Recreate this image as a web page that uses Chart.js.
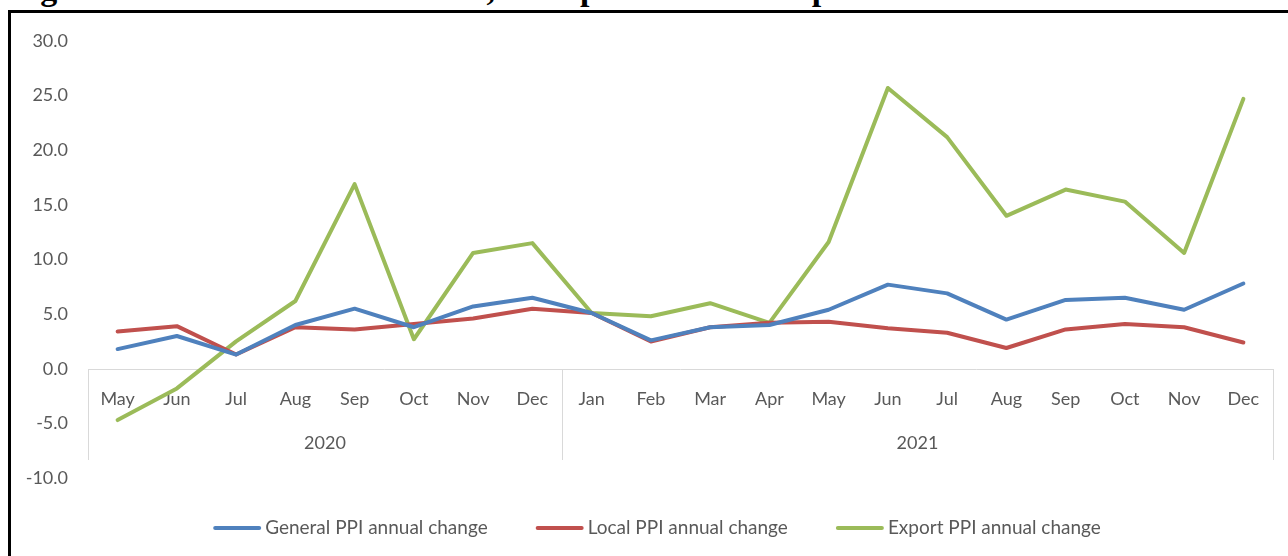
<!DOCTYPE html>
<html>
<head>
<meta charset="utf-8">
<script src="https://cdn.jsdelivr.net/npm/chart.js@4"></script>
<style>
  html,body{margin:0;padding:0;background:#fff;overflow:hidden;}
  #wrap{position:relative;width:1288px;height:556px;}
  #title{position:absolute;left:10px;top:-28px;font:bold 34px "Liberation Serif","Times New Roman",serif;line-height:34px;white-space:nowrap;color:#000;}
  #frame{position:absolute;left:8px;top:10px;width:1400px;height:700px;border-top:3px solid #000;border-left:3px solid #000;}
  canvas{position:absolute;left:0;top:0;}
</style>
</head>
<body>
<div id="wrap">
  <div id="title">Figure 4: Annual PPI in Rwanda, local products and exports</div>
  <div id="frame"></div>
  <canvas id="ppi" width="1288" height="556"></canvas>
</div>
<script>
// data (annual change, %)
const months = ['May','Jun','Jul','Aug','Sep','Oct','Nov','Dec','Jan','Feb','Mar','Apr','May','Jun','Jul','Aug','Sep','Oct','Nov','Dec'];
const years  = ['2020','2020','2020','2020','2020','2020','2020','2020','2021','2021','2021','2021','2021','2021','2021','2021','2021','2021','2021','2021'];
const generalPpi = [1.8,3.0,1.3,4.0,5.5,3.8,5.7,6.5,5.1,2.6,3.8,4.0,5.4,7.7,6.9,4.5,6.3,6.5,5.4,7.8];
const localPpi   = [3.4,3.9,1.3,3.8,3.6,4.1,4.6,5.5,5.1,2.5,3.8,4.2,4.3,3.7,3.3,1.9,3.6,4.1,3.8,2.4];
const exportPpi  = [-4.7,-1.8,2.5,6.2,16.9,2.7,10.6,11.5,5.1,4.8,6.0,4.2,11.6,25.7,21.2,14.0,16.4,15.3,10.6,24.7];
const seriesNames = ['General PPI annual change','Local PPI annual change','Export PPI annual change'];

const txt = '#595959';
const fnt = {family:'Lato', size:18};

// two-level category axis drawn on the zero line (months + years)
const groupAxis = {
    id:'groupAxis',
    beforeDatasetsDraw(chart){
        const {ctx, chartArea:a, scales:{x,y}} = chart;
        const y0 = Math.round(y.getPixelForValue(0));
        ctx.save();
        ctx.strokeStyle='#d9d9d9'; ctx.lineWidth=1;
        ctx.beginPath();
        ctx.moveTo(a.left, y0+0.5); ctx.lineTo(a.right, y0+0.5);
        let edges=[a.left], groups=[{name:years[0], start:a.left}];
        for(let i=1;i<years.length;i++){
            if(years[i]!==years[i-1]){
                const e=(x.getPixelForValue(i-1)+x.getPixelForValue(i))/2;
                edges.push(e);
                groups[groups.length-1].end=e;
                groups.push({name:years[i], start:e});
            }
        }
        groups[groups.length-1].end=a.right;
        edges.push(a.right);
        edges.forEach(e=>{ const ex=Math.round(e)+0.5; ctx.moveTo(ex,y0); ctx.lineTo(ex,y0+91); });
        ctx.stroke();
        ctx.fillStyle=txt; ctx.font='18px Lato'; ctx.textAlign='center'; ctx.textBaseline='middle';
        months.forEach((m,i)=>ctx.fillText(m, x.getPixelForValue(i), y0+30));
        groups.forEach(g=>ctx.fillText(g.name, (g.start+g.end)/2, y0+74));
        ctx.restore();
    }
};

// excel style legend: long line swatch, text right next to it
const lineLegend = {
    id:'lineLegend',
    afterDraw(chart){
        const ctx=chart.ctx, ds=chart.data.datasets;
        const sw=48, gap=4, between=48, ly=528;
        ctx.save();
        ctx.font='19px Lato'; ctx.textBaseline='middle'; ctx.textAlign='left';
        const widths=ds.map(d=>ctx.measureText(d.label).width);
        const total=widths.reduce((s,w)=>s+w,0)+ds.length*(sw+gap)+(ds.length-1)*between;
        let cx=chart.width/2+13-total/2;
        ds.forEach((d,i)=>{
            ctx.strokeStyle=d.borderColor; ctx.lineWidth=4; ctx.lineCap='round';
            ctx.beginPath(); ctx.moveTo(cx+2,ly); ctx.lineTo(cx+sw-2,ly); ctx.stroke();
            ctx.fillStyle=txt;
            ctx.fillText(d.label, cx+sw+gap, ly);
            cx+=sw+gap+widths[i]+between;
        });
        ctx.restore();
    }
};

function line(label, data, color){
    return {label:label, data:data, borderColor:color, backgroundColor:color, borderWidth:4, pointRadius:0, tension:0, borderCapStyle:'round', borderJoinStyle:'round'};
}

new Chart(document.getElementById('ppi'), {
    type:'line',
    data:{
        labels:months,
        datasets:[
            line(seriesNames[0], generalPpi, '#4F81BD'),
            line(seriesNames[1], localPpi, '#C0504D'),
            line(seriesNames[2], exportPpi, '#9BBB59')
        ]
    },
    options:{
        responsive:false, animation:false,
        layout:{padding:{left:10, right:15, top:41, bottom:78}},
        scales:{
            x:{display:false, offset:true},
            y:{
                min:-10, max:30,
                afterFit(s){ s.width=78; },
                grid:{display:false, drawTicks:false},
                border:{display:false},
                ticks:{stepSize:5, padding:20, color:txt, font:fnt, callback:v=>v.toFixed(1)}
            }
        },
        plugins:{
            tooltip:{enabled:false},
            legend:{display:false}
        }
    },
    plugins:[groupAxis, lineLegend]
});
</script>
</body>
</html>
